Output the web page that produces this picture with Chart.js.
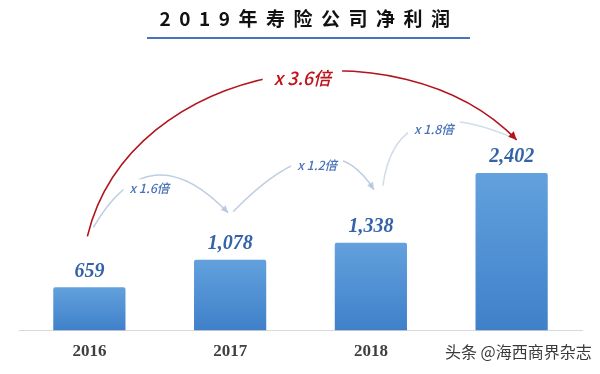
<!DOCTYPE html>
<html>
<head>
<meta charset="utf-8">
<script src="https://cdn.jsdelivr.net/npm/chart.js@4.4.1/dist/chart.umd.min.js"></script>
<style>
  html, body { margin: 0; padding: 0; background: #fff; }
  #wrap { position: relative; width: 600px; height: 374px; }
  #title {
    position: absolute; left: 0; top: 4px; width: 618px; text-align: center;
    font: bold 19px "Noto Sans CJK SC", sans-serif; letter-spacing: 8.5px; color: #111;
  }
  #rule {
    position: absolute; left: 147px; top: 37px; width: 323px; height: 2px; background: #4a73bd;
  }
</style>
</head>
<body>
<div id="wrap">
  <canvas id="myChart" width="600" height="374"></canvas>
  <div id="title">2019年寿险公司净利润</div>
  <div id="rule"></div>
</div>
<script>
const categories = ['2016', '2017', '2018', '2019'];
const profits = [659, 1078, 1338, 2402];
const valueLabels = ['659', '1,078', '1,338', '2,402'];
const stepLabels = ['x 1.6倍', 'x 1.2倍', 'x 1.8倍'];
const totalLabel = 'x 3.6倍';
const watermark = '头条 @海西商界杂志';

// arrows drawn on top of the bars, anchored to the bar tops
const arrowsPlugin = {
    id: 'arrows',
    afterDatasetsDraw(chart) {
        const c = chart.ctx;
        const bars = chart.getDatasetMeta(0).data;
        const at = (i, dx, dy) => ({ x: bars[i].x + dx, y: bars[i].y + dy });

        // value labels
        c.save();
        c.font = 'italic bold 20px "Liberation Serif", serif';
        c.fillStyle = '#3563a8';
        c.textAlign = 'center';
        c.textBaseline = 'middle';
        bars.forEach((b, i) => c.fillText(valueLabels[i], b.x, b.y - 16));
        c.restore();

        function head(p, from, color, size) {
            const a = Math.atan2(p.y - from.y, p.x - from.x);
            c.save();
            c.fillStyle = color;
            c.beginPath();
            c.moveTo(p.x, p.y);
            c.lineTo(p.x - size * Math.cos(a - 0.45), p.y - size * Math.sin(a - 0.45));
            c.lineTo(p.x - size * Math.cos(a + 0.45), p.y - size * Math.sin(a + 0.45));
            c.closePath();
            c.fill();
            c.restore();
        }

        function label(text, x, y, font, color, pad) {
            c.save();
            c.font = font;
            const w = c.measureText(text).width;
            c.fillStyle = '#fff';
            c.fillRect(x - w / 2 - pad, y - 9, w + pad * 2, 18);
            c.fillStyle = color;
            c.textAlign = 'center';
            c.textBaseline = 'middle';
            c.fillText(text, x, y);
            c.restore();
        }

        // small step arcs
        const steps = [
            [at(0, 4, -60), at(0, 60, -157), at(1, -2, -47), at(0, 60, -99)],
            [at(1, 3, -48), at(1, 97, -145), at(2, 3, -53), at(1, 87, -95)],
            [at(2, 12, -57), at(2, 25, -153), at(3, -3, -37), at(2, 63, -114)]
        ];
        const light = 'rgba(178,196,222,0.85)';
        steps.forEach((s, i) => {
            c.save();
            c.strokeStyle = i === 2 ? 'rgba(190,205,226,0.7)' : light;
            c.lineWidth = 1.5;
            c.beginPath();
            c.moveTo(s[0].x, s[0].y);
            c.quadraticCurveTo(s[1].x, s[1].y, s[2].x, s[2].y);
            c.stroke();
            c.restore();
            if (i < 2) head(s[2], s[1], light, 8);
            label(stepLabels[i], s[3].x, s[3].y, 'italic 500 12.5px "Noto Sans CJK SC", sans-serif', '#4a72b8', 6);
        });

        // big red arc
        const r0 = at(0, -2, -51), r1 = at(0, 41, -228), r2 = at(3, -111, -153), r3 = at(3, 5, -33);
        c.save();
        c.strokeStyle = '#b3141c';
        c.lineWidth = 1.6;
        c.beginPath();
        c.moveTo(r0.x, r0.y);
        c.bezierCurveTo(r1.x, r1.y, r2.x, r2.y, r3.x, r3.y);
        c.stroke();
        c.restore();
        head(r3, r2, '#b3141c', 9);
        const rl = at(0, 213, -209);
        label(totalLabel, rl.x, rl.y, 'italic 500 18px "Noto Sans CJK SC", sans-serif', '#c0121b', 11);

        // site watermark over the last tick
        c.save();
        c.fillStyle = '#fff';
        c.fillRect(440, 336, 160, 34);
        c.font = '16px "Noto Sans CJK SC", sans-serif';
        c.textBaseline = 'middle';
        c.lineWidth = 3;
        c.strokeStyle = 'rgba(255,255,255,0.9)';
        c.strokeText(watermark, 445, 352);
        c.fillStyle = '#3a3a3a';
        c.fillText(watermark, 445, 352);
        c.restore();
    }
};

const ctx = document.getElementById('myChart').getContext('2d');
const chart = new Chart(ctx, {
    type: 'bar',
    data: {
        labels: categories,
        datasets: [{
            data: profits,
            backgroundColor: (context) => {
                const ch = context.chart;
                if (!ch.chartArea) return '#5b9bd5';
                const top = ch.scales.y.getPixelForValue(context.raw);
                const g = ch.ctx.createLinearGradient(0, top, 0, ch.chartArea.bottom);
                g.addColorStop(0, '#62a1dd');
                g.addColorStop(1, '#3f80c9');
                return g;
            },
            borderRadius: 2,
            borderSkipped: 'bottom',
            barPercentage: 0.9,
            categoryPercentage: 0.57
        }]
    },
    options: {
        animation: false,
        responsive: false,
        layout: { padding: { left: 19, right: 18, top: 68, bottom: 1 } },
        plugins: {
            legend: { display: false },
            tooltip: { enabled: false }
        },
        scales: {
            x: {
                grid: { display: false, drawTicks: false },
                border: { color: '#d9d9d9', width: 1 },
                ticks: {
                    padding: 11,
                    color: '#404040',
                    font: { family: '"Liberation Serif", serif', size: 17, weight: 'bold' }
                }
            },
            y: {
                display: false,
                min: 0,
                max: 4000
            }
        }
    },
    plugins: [arrowsPlugin]
});
</script>
</body>
</html>
